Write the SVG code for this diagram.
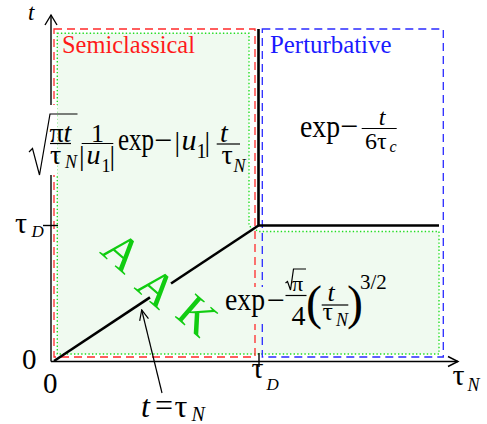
<svg xmlns="http://www.w3.org/2000/svg" width="487" height="424" viewBox="0 0 487 424" font-family="'Liberation Serif', 'Times New Roman', serif">
<style>
.i{font-style:italic}
.ax{stroke:#000;stroke-width:1.4;fill:none}
.thick{stroke:#000;stroke-width:2.6;fill:none;stroke-linejoin:miter}
.bar{stroke:#000;stroke-width:1.2;fill:none}
.dotg{fill:#f0faf0;stroke:#22dd22;stroke-width:1.4;stroke-dasharray:1.4 2.2}
.dashr{fill:none;stroke:#ff2a2a;stroke-width:1.3;stroke-dasharray:8 5}
.dashb{fill:none;stroke:#2a2aff;stroke-width:1.3;stroke-dasharray:8 5}
.aak{fill:#11cc11;font-size:48px}
</style>
<defs>
<marker id="openArrow" viewBox="0 0 12 12" refX="11" refY="6" markerWidth="12" markerHeight="12" markerUnits="userSpaceOnUse" orient="auto">
<path d="M1,1.5 L11,6 L1,10.5" fill="none" stroke="#000" stroke-width="1.2"/>
</marker>
</defs>

<g id="region-aak">
<polygon class="dotg" points="57.3,33.3 249,33.3 249,226 258.5,231.5 439,231.5 439,354 57.3,354"/>
</g>

<g id="region-semiclassical">
<rect class="dashr" x="54" y="29" width="201" height="328"/>
</g>

<g id="region-perturbative">
<rect class="dashb" x="262.3" y="29" width="181" height="328"/>
</g>

<g id="axes">
<line class="ax" x1="51" y1="361.5" x2="51" y2="15"/>
<polyline class="ax" points="45,25 51,15 57,25"/>
<line class="ax" x1="51" y1="361.5" x2="458" y2="361.5"/>
<polyline class="ax" points="448,356.5 458,361.5 448,366.5"/>
<line class="ax" x1="43" y1="225.5" x2="58" y2="225.5"/>
<line class="ax" x1="259" y1="353" x2="259" y2="367"/>
<text class="i" x="28" y="20" font-size="23">t</text>
<text x="15" y="233" font-size="30">τ</text>
<text class="i" x="31.5" y="237" font-size="17">D</text>
<text x="22" y="369" font-size="29">0</text>
<text x="43" y="393" font-size="29">0</text>
<text x="251.5" y="378" font-size="30">τ</text>
<text class="i" x="266.5" y="390" font-size="17">D</text>
<text x="452.5" y="385" font-size="30">τ</text>
<text class="i" x="467.5" y="390.5" font-size="18">N</text>
</g>

<rect x="0" y="105" width="57.6" height="70" fill="#fff"/>
<rect x="222" y="287" width="170" height="37" fill="#f0faf0"/>

<g id="connectors">
<polyline class="thick" points="258.5,29 258.5,225.5 439,225.5"/>
<line class="thick" x1="54" y1="361" x2="150" y2="297.4"/>
<line class="thick" x1="171" y1="283.5" x2="258.5" y2="225.5"/>
<line x1="162" y1="393" x2="141.7" y2="310" stroke="#000" stroke-width="1.2" marker-end="url(#openArrow)"/>
</g>

<g id="label-semiclassical">
<text x="62" y="53" font-size="26" fill="#ff1a1a" textLength="133" lengthAdjust="spacingAndGlyphs">Semiclassical</text>
</g>
<g id="label-perturbative">
<text x="270" y="53" font-size="26" fill="#1a1aff" textLength="121.5" lengthAdjust="spacingAndGlyphs">Perturbative</text>
</g>

<g id="label-aak">
<text class="aak" transform="translate(123,251) rotate(41)" x="0" y="17" text-anchor="middle">A</text>
<text class="aak" transform="translate(157.5,286.5) rotate(41)" x="0" y="17" text-anchor="middle">A</text>
<text class="aak" transform="translate(198,314.5) rotate(41)" x="0" y="17" text-anchor="middle">K</text>
</g>

<g id="formula-semiclassical">
<path class="bar" d="M29,152 L32.5,148.5 L39.5,175 L50,114 L77.5,114"/>
<text x="49.5" y="141.5" font-size="28">π</text>
<text class="i" x="63.5" y="141.5" font-size="28">t</text>
<line class="bar" x1="50" y1="143.5" x2="71" y2="143.5"/>
<text x="50" y="163.5" font-size="28">τ</text>
<text class="i" x="65" y="167.5" font-size="18">N</text>
<text x="79" y="165" font-size="28">|</text>
<text x="97.5" y="141.5" font-size="26" text-anchor="middle">1</text>
<line class="bar" x1="81.7" y1="143.5" x2="113.3" y2="143.5"/>
<text class="i" x="86.5" y="163.5" font-size="28">u</text>
<text x="101.5" y="171.5" font-size="18">1</text>
<text x="109.5" y="165" font-size="28">|</text>
<text x="118" y="150" font-size="32" textLength="36" lengthAdjust="spacingAndGlyphs">exp</text>
<text x="154" y="151" font-size="32">−</text>
<text x="174.5" y="151" font-size="28">|</text>
<text class="i" x="181.5" y="150" font-size="30">u</text>
<text x="196.5" y="157.5" font-size="20">1</text>
<text x="204.5" y="151" font-size="28">|</text>
<text class="i" x="224" y="141.5" font-size="28" text-anchor="middle">t</text>
<line class="bar" x1="216.7" y1="144" x2="240" y2="144"/>
<text x="221.5" y="163.5" font-size="28">τ</text>
<text class="i" x="233.5" y="171.5" font-size="18">N</text>
</g>

<g id="formula-perturbative">
<text x="300" y="136.5" font-size="32" textLength="40" lengthAdjust="spacingAndGlyphs">exp</text>
<text x="340" y="137" font-size="32">−</text>
<text class="i" x="382" y="125" font-size="24" text-anchor="middle">t</text>
<line class="bar" x1="361.7" y1="128.5" x2="396.7" y2="128.5"/>
<text x="365" y="149" font-size="24">6</text>
<text x="377" y="149" font-size="24">τ</text>
<text class="i" x="389.5" y="151.5" font-size="16">c</text>
</g>

<g id="formula-aak">
<text x="225" y="310" font-size="32" textLength="40" lengthAdjust="spacingAndGlyphs">exp</text>
<text x="266.5" y="311" font-size="32">−</text>
<path class="bar" d="M285.5,283 L287.5,281.5 L290.5,290 L293.5,269 L306,269"/>
<text x="292" y="291" font-size="22">π</text>
<line class="bar" x1="285.5" y1="295.5" x2="306.5" y2="295.5"/>
<text x="298.5" y="325" font-size="28" text-anchor="middle">4</text>
<text x="306" y="319" font-size="48">(</text>
<text class="i" x="331" y="301" font-size="26" text-anchor="middle">t</text>
<line class="bar" x1="321.7" y1="305" x2="348.3" y2="305"/>
<text x="322.5" y="320" font-size="26">τ</text>
<text class="i" x="336" y="326" font-size="18">N</text>
<text x="347" y="319" font-size="48">)</text>
<text x="360" y="289" font-size="21">3/2</text>
</g>

<g id="label-line">
<text class="i" x="141" y="416.5" font-size="32">t</text>
<text x="155" y="416" font-size="32">=</text>
<text x="174.5" y="416.5" font-size="32">τ</text>
<text class="i" x="191.5" y="421" font-size="20">N</text>
</g>
</svg>
